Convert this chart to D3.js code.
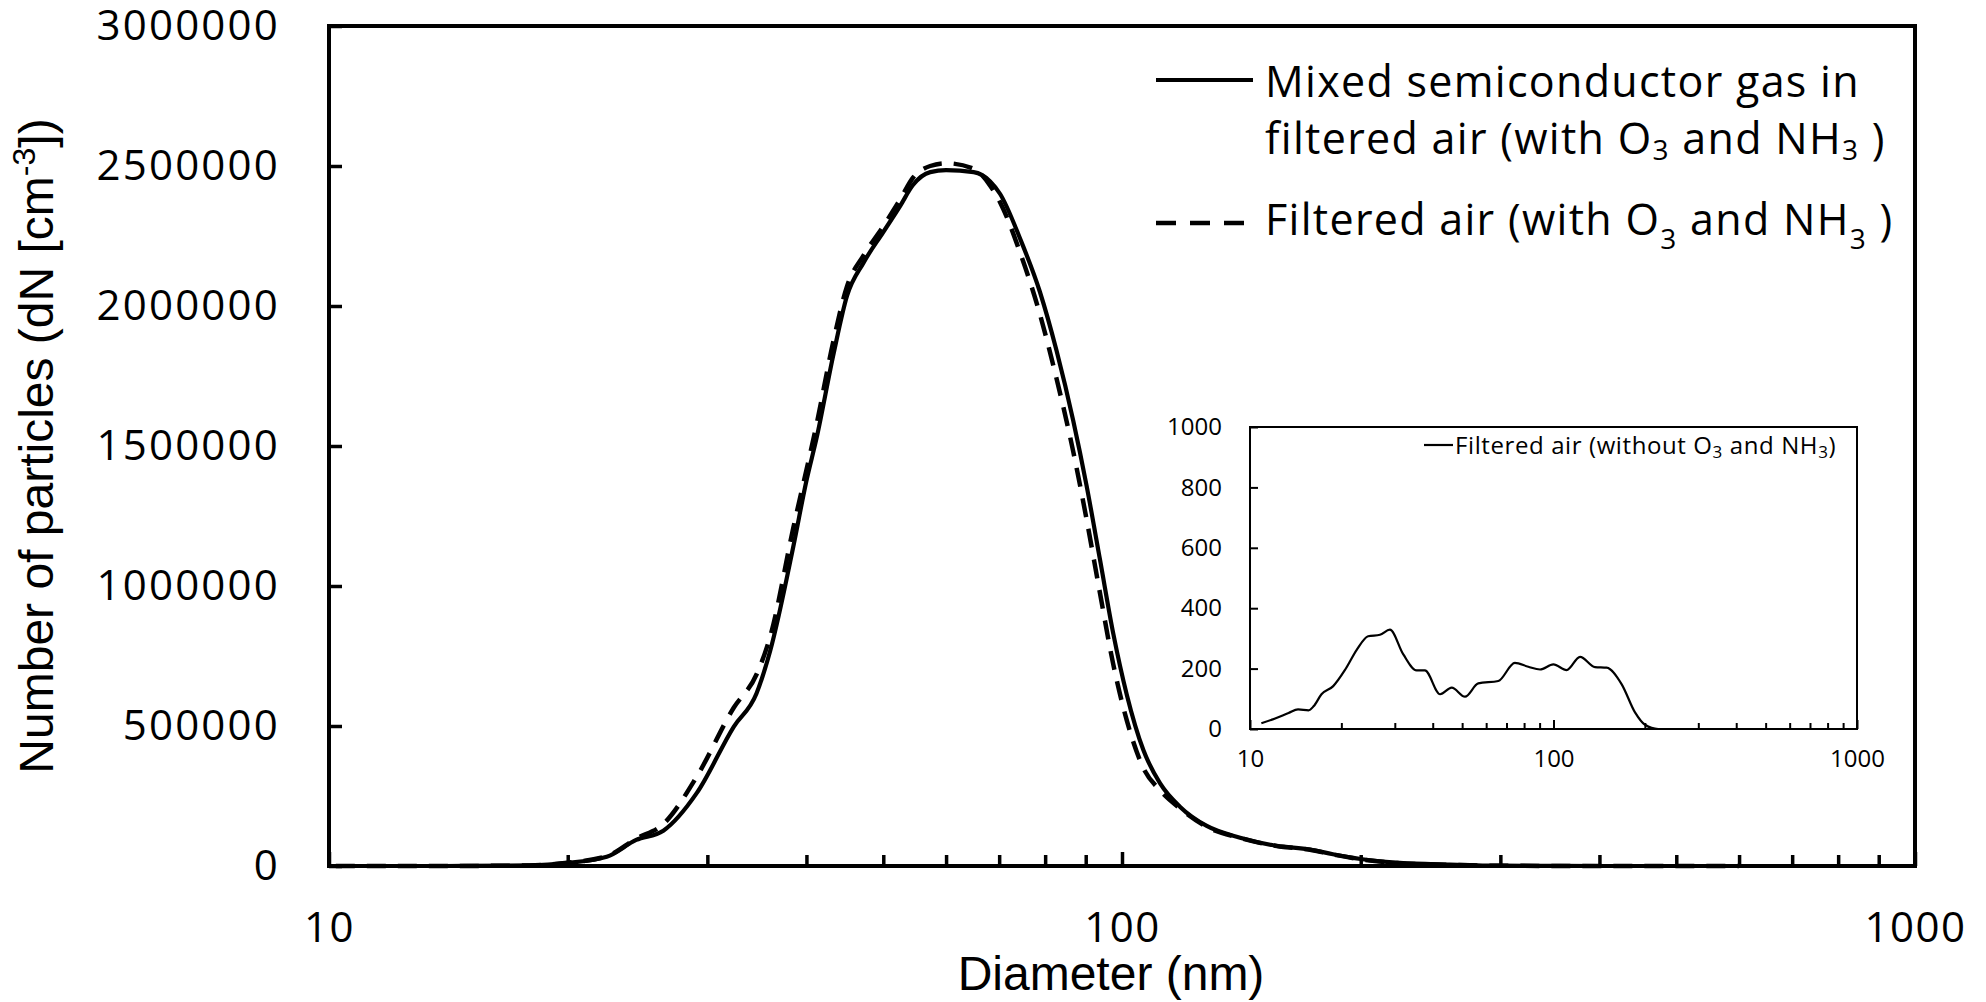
<!DOCTYPE html>
<html>
<head>
<meta charset="utf-8">
<script src="https://cdn.jsdelivr.net/npm/d3@7"></script>
<style>
  html, body { margin: 0; padding: 0; background: #fff; }
  svg { display: block; }
  .tick-label { font-family: "Open Sans", "Noto Sans", sans-serif; fill: #000; }
  .title { font-family: "Liberation Sans", Arial, sans-serif; fill: #000; }
  .legend { font-family: "Open Sans", "Noto Sans", sans-serif; fill: #000; }
</style>
</head>
<body>
<svg id="chart" width="1986" height="1002"></svg>
<script>
// Particle size distribution, mixed semiconductor gas in filtered air (solid)
const mixedDiam = [10.2, 14, 17.9, 20, 22.4, 24.4, 26.4, 29.1, 32.4, 34.6, 36.0, 38.5, 40, 41.2, 43.3, 45.0, 47.2, 50.0, 52.5, 54.5, 57.3, 60, 65, 68.2, 70.2, 74.4, 78.8, 82.7, 86.8, 90.2, 93.8, 97.5, 101.4, 106.4, 111.7, 118.4, 127.9, 140.9, 156.8, 172.6, 184.5, 200, 224, 259, 300, 400, 600];
const mixedCount = [0, 0, 2000, 11000, 33000, 93000, 126000, 261000, 498000, 616000, 768000, 1140000, 1376000, 1529000, 1832000, 2036000, 2154000, 2264000, 2357000, 2432000, 2478000, 2485000, 2478000, 2445000, 2400000, 2240000, 2050000, 1840000, 1590000, 1360000, 1095000, 830000, 612000, 414000, 295000, 211000, 143000, 101000, 72000, 59000, 42000, 25000, 11000, 5000, 1000, 0, 0];

// Filtered air with O3 and NH3 (dashed)
const filteredDiam = [10.2, 14, 17.9, 20, 22.4, 24.4, 26.4, 29.1, 32.4, 34.6, 36.0, 38.5, 41.2, 43.3, 45.0, 47.2, 50.0, 52.5, 54.5, 57.3, 60, 65, 68.2, 70.2, 74.4, 78.8, 82.7, 86.8, 90.2, 93.8, 97.5, 101.4, 106.4, 111.7, 118.4, 127.9, 140.9, 156.8, 172.6, 184.5, 200, 224, 259, 300, 400, 600];
const filteredCount = [0, 0, 2000, 12000, 35000, 98000, 150000, 320000, 566000, 684000, 819000, 1207000, 1578000, 1880000, 2070000, 2180000, 2285000, 2380000, 2458000, 2500000, 2510000, 2490000, 2430000, 2370000, 2190000, 1970000, 1740000, 1480000, 1240000, 975000, 720000, 520000, 350000, 270000, 205000, 140000, 100000, 71000, 58000, 41000, 24000, 10000, 4000, 1000, 0, 0];

// Inset: filtered air without O3 and NH3
const insetDiam = [10.9, 12.1, 13.4, 14.4, 15.6, 16.2, 17.2, 18.8, 20.6, 22.5, 24.5, 26.8, 28.9, 32.0, 35.4, 37.7, 42.3, 46.2, 51.1, 56.5, 65.8, 74.6, 82.6, 90.3, 99.9, 110.5, 122.3, 137, 149.6, 167.8, 185.6, 200.2, 221.4, 300, 500, 1000];
const insetCount = [19, 35, 53, 65, 62, 75, 115, 142, 197, 263, 307, 312, 329, 247, 194, 194, 115, 137, 107, 151, 159, 219, 206, 197, 214, 195, 239, 205, 203, 148, 55, 14, 0, 0, 0, 0];

// Axis ticks
const mainYTicks = [0, 500000, 1000000, 1500000, 2000000, 2500000, 3000000];
const mainXMajor = [10, 100, 1000];
const xMinor = [20, 30, 40, 50, 60, 70, 80, 90, 200, 300, 400, 500, 600, 700, 800, 900];
const insetYTicks = [0, 200, 400, 600, 800, 1000];
const insetXMajor = [10, 100, 1000];

const svg = d3.select("#chart");

// ---------- main panel ----------
const M = { left: 329, right: 1915, top: 26, bottom: 866 };
const x = d3.scaleLog().domain([10, 1000]).range([M.left, M.right]);
const y = d3.scaleLinear().domain([0, 3000000]).range([M.bottom, M.top]);

const line = d3.line()
  .x(d => x(d[0]))
  .y(d => y(d[1]))
  .curve(d3.curveMonotoneX);

svg.append("path")
  .datum(d3.zip(filteredDiam, filteredCount))
  .attr("d", line)
  .attr("fill", "none")
  .attr("stroke", "#000")
  .attr("stroke-width", 4.5)
  .attr("stroke-dasharray", "19,12");

svg.append("path")
  .datum(d3.zip(mixedDiam, mixedCount))
  .attr("d", line)
  .attr("fill", "none")
  .attr("stroke", "#000")
  .attr("stroke-width", 4.2);

// y axis (ticks pointing inward)
const yAxis = svg.append("g")
  .attr("transform", `translate(${M.left},0)`)
  .call(d3.axisLeft(y).tickValues(mainYTicks).tickSize(-13).tickPadding(49).tickFormat(d3.format("d")));
yAxis.select(".domain").remove();
yAxis.selectAll(".tick line").attr("stroke-width", 3.5);
yAxis.selectAll(".tick text").attr("class", "tick-label")
  .style("font-size", "42px").style("letter-spacing", "2.2px").attr("font-family", null);

// x axis: minor ticks
const xMinorAxis = svg.append("g")
  .attr("transform", `translate(0,${M.bottom})`)
  .call(d3.axisBottom(x).tickValues(xMinor).tickSize(-11).tickFormat(""));
xMinorAxis.select(".domain").remove();
xMinorAxis.selectAll(".tick line").attr("stroke-width", 3.5);

// x axis: decades
const xAxis = svg.append("g")
  .attr("transform", `translate(0,${M.bottom})`)
  .call(d3.axisBottom(x).tickValues(mainXMajor).tickSize(-14).tickPadding(46).tickFormat(d3.format("d")));
xAxis.select(".domain").remove();
xAxis.selectAll(".tick line").attr("stroke-width", 3.5);
xAxis.selectAll(".tick text").attr("class", "tick-label")
  .style("font-size", "42px").style("letter-spacing", "1.5px").attr("font-family", null);

// frame
svg.append("rect")
  .attr("x", M.left).attr("y", M.top)
  .attr("width", M.right - M.left).attr("height", M.bottom - M.top)
  .attr("fill", "none").attr("stroke", "#000").attr("stroke-width", 4);

// axis titles
svg.append("text")
  .attr("class", "title")
  .attr("x", 1111).attr("y", 990)
  .attr("text-anchor", "middle")
  .style("font-size", "48px")
  .text("Diameter (nm)");

const yTitle = svg.append("text")
  .attr("class", "title")
  .attr("transform", `translate(53,${(M.top + M.bottom) / 2}) rotate(-90)`)
  .attr("text-anchor", "middle")
  .style("font-size", "48px");
yTitle.append("tspan").text("Number of particles (dN [cm");
yTitle.append("tspan").attr("dy", -18).style("font-size", "32px").text("-3");
yTitle.append("tspan").attr("dy", 18).text("])");

// legend
const legend = svg.append("g");
legend.append("line")
  .attr("x1", 1156).attr("x2", 1253).attr("y1", 80).attr("y2", 80)
  .attr("stroke", "#000").attr("stroke-width", 4.2);
legend.append("line")
  .attr("x1", 1156).attr("x2", 1253).attr("y1", 223).attr("y2", 223)
  .attr("stroke", "#000").attr("stroke-width", 4.5)
  .attr("stroke-dasharray", "20,14");

const legendFont = "43px";
const legendSpacing = "1.3px";

legend.append("text").attr("class", "legend")
  .attr("x", 1265).attr("y", 97)
  .style("font-size", legendFont).style("letter-spacing", legendSpacing)
  .text("Mixed semiconductor gas in");

const l2 = legend.append("text").attr("class", "legend")
  .attr("x", 1265).attr("y", 154)
  .style("font-size", legendFont).style("letter-spacing", legendSpacing);
l2.append("tspan").text("filtered air (with O");
l2.append("tspan").attr("dy", 6).style("font-size", "28px").text("3");
l2.append("tspan").attr("dy", -6).text(" and NH");
l2.append("tspan").attr("dy", 6).style("font-size", "28px").text("3");
l2.append("tspan").attr("dy", -6).text(" )");

const l3 = legend.append("text").attr("class", "legend")
  .attr("x", 1265).attr("y", 235)
  .style("font-size", legendFont).style("letter-spacing", legendSpacing);
l3.append("tspan").text("Filtered air (with O");
l3.append("tspan").attr("dy", 14).style("font-size", "28px").text("3");
l3.append("tspan").attr("dy", -14).text(" and NH");
l3.append("tspan").attr("dy", 14).style("font-size", "28px").text("3");
l3.append("tspan").attr("dy", -14).text(" )");

// ---------- inset panel ----------
const I = { left: 1250, right: 1857, top: 427, bottom: 729 };
const xi = d3.scaleLog().domain([10, 1000]).range([I.left, I.right]);
const yi = d3.scaleLinear().domain([0, 1000]).range([I.bottom, I.top]);

// white backing so the inset sits cleanly over the main panel
svg.append("rect")
  .attr("x", I.left).attr("y", I.top)
  .attr("width", I.right - I.left).attr("height", I.bottom - I.top)
  .attr("fill", "#fff");

const insetLine = d3.line()
  .x(d => xi(d[0]))
  .y(d => yi(d[1]))
  .curve(d3.curveMonotoneX);

svg.append("path")
  .datum(d3.zip(insetDiam, insetCount))
  .attr("d", insetLine)
  .attr("fill", "none")
  .attr("stroke", "#000")
  .attr("stroke-width", 2.2);

const yiAxis = svg.append("g")
  .attr("transform", `translate(${I.left},0)`)
  .call(d3.axisLeft(yi).tickValues(insetYTicks).tickSize(-8).tickPadding(28).tickFormat(d3.format("d")));
yiAxis.select(".domain").remove();
yiAxis.selectAll(".tick line").attr("stroke-width", 2);
yiAxis.selectAll(".tick text").attr("class", "tick-label").style("font-size", "24px").attr("font-family", null);

const xiMinorAxis = svg.append("g")
  .attr("transform", `translate(0,${I.bottom})`)
  .call(d3.axisBottom(xi).tickValues(xMinor).tickSize(-6).tickFormat(""));
xiMinorAxis.select(".domain").remove();
xiMinorAxis.selectAll(".tick line").attr("stroke-width", 2);

const xiAxis = svg.append("g")
  .attr("transform", `translate(0,${I.bottom})`)
  .call(d3.axisBottom(xi).tickValues(insetXMajor).tickSize(-9).tickPadding(21).tickFormat(d3.format("d")));
xiAxis.select(".domain").remove();
xiAxis.selectAll(".tick line").attr("stroke-width", 2);
xiAxis.selectAll(".tick text").attr("class", "tick-label").style("font-size", "24px").attr("font-family", null);

svg.append("rect")
  .attr("x", I.left).attr("y", I.top)
  .attr("width", I.right - I.left).attr("height", I.bottom - I.top)
  .attr("fill", "none").attr("stroke", "#000").attr("stroke-width", 2);

// inset legend
svg.append("line")
  .attr("x1", 1424).attr("x2", 1453).attr("y1", 445).attr("y2", 445)
  .attr("stroke", "#000").attr("stroke-width", 2.2);
const il = svg.append("text").attr("class", "legend")
  .attr("x", 1455).attr("y", 454)
  .style("font-size", "24px").style("letter-spacing", "0.6px");
il.append("tspan").text("Filtered air (without O");
il.append("tspan").attr("dy", 4).style("font-size", "17px").text("3");
il.append("tspan").attr("dy", -4).text(" and NH");
il.append("tspan").attr("dy", 4).style("font-size", "17px").text("3");
il.append("tspan").attr("dy", -4).text(")");
</script>
</body>
</html>
